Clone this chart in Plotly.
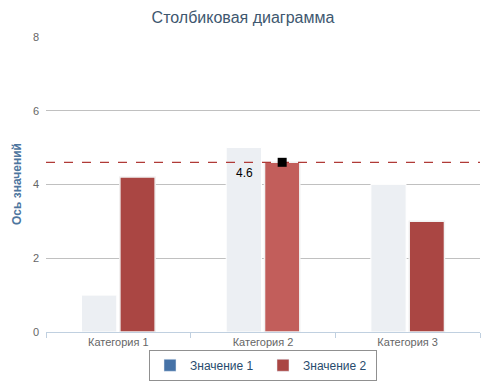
import plotly.graph_objects as go

categories = ["Категория 1", "Категория 2", "Категория 3"]
series1_name = "Значение 1"
series2_name = "Значение 2"
series1_values = [1, 5, 4]
series2_values = [4.2, 4.6, 3.0]
reference_value = 4.6
highlight_index = 1
y_ticks = [0, 2, 4, 6, 8]

BARGAP = 0.47
BARGROUPGAP = 0.08
S1_LEGEND = "#4572A7"
S1_FADED = "#ECEFF3"
S2 = "#AA4643"
S2_HOVER = "#C25E5B"

n = len(categories)
fig = go.Figure()
fig.add_bar(x=categories, y=series1_values, name=series1_name, offsetgroup="1",
            marker=dict(color=S1_FADED, line=dict(color="white", width=1)),
            showlegend=False, hoverinfo="skip")
s2_colors = [S2_HOVER if i == highlight_index else S2 for i in range(n)]
fig.add_bar(x=categories, y=series2_values, name=series2_name, offsetgroup="2",
            marker=dict(color=s2_colors, line=dict(color="#F2F2F2", width=1.5)),
            showlegend=False)
# legend entries
fig.add_bar(x=[categories[0]], y=[None], name=series1_name, offsetgroup="1",
            marker=dict(color=S1_LEGEND))
fig.add_bar(x=[categories[0]], y=[None], name=series2_name, offsetgroup="2",
            marker=dict(color=S2))

# dashed reference line across the plot
fig.add_scatter(x=[-0.5, n - 0.5], y=[reference_value, reference_value], mode="lines",
                line=dict(color="#B03A37", width=1.2, dash="dash"), xaxis="x2",
                showlegend=False, hoverinfo="skip")

# marker on top of highlighted bar (position derived from group layout)
slot = (1 - BARGAP) / 2
mx = highlight_index + slot / 2
fig.add_scatter(x=[mx], y=[series2_values[highlight_index]], mode="markers",
                marker=dict(symbol="square", size=9, color="black"),
                showlegend=False, xaxis="x2")

fig.add_annotation(x=highlight_index, y=reference_value, xref="x2", yref="y",
                   text=f"{reference_value}", showarrow=False, xanchor="right", yanchor="top",
                   xshift=-8, yshift=-2, font=dict(size=12, color="#000000"))

fig.update_layout(
    width=496, height=382,
    margin=dict(l=46, r=16, t=36, b=50, autoexpand=False),
    paper_bgcolor="white", plot_bgcolor="white",
    font=dict(family="Liberation Sans, Arial, sans-serif"),
    title=dict(text="Столбиковая диаграмма", x=243 / 496, xanchor="center", y=1 - 17 / 382,
               yanchor="middle", font=dict(size=16, color="#3E576F")),
    barmode="group", bargap=BARGAP, bargroupgap=BARGROUPGAP,
    legend=dict(orientation="h", x=0.5, xanchor="center", y=-0.06, yanchor="top",
                bordercolor="#909090", borderwidth=1, bgcolor="white",
                entrywidth=68, entrywidthmode="pixels",
                font=dict(size=12, color="#274B6D")),
    showlegend=True,
    xaxis2=dict(overlaying="x", range=[-0.5, n - 0.5], visible=False, fixedrange=True),
    xaxis=dict(type="category", range=[-0.5, n - 0.5], showline=True,
               linecolor="#C0D0E0", linewidth=1,
               ticks="outside", tickson="boundaries", ticklen=5, tickcolor="#C0D0E0",
               showgrid=False, tickfont=dict(size=11, color="#666666"),
               fixedrange=True),
)
fig.update_yaxes(range=[0, max(y_ticks) * 1.003], tickvals=y_ticks, showgrid=True, gridcolor="#C0C0C0",
                 zeroline=False, showline=False, tickfont=dict(size=11, color="#666666"),
                 ticklabelstandoff=6, fixedrange=True,
                 title=dict(text="<b>Ось значений</b>", font=dict(size=12, color="#4D759E"), standoff=8))

fig.write_html("out.html", config={"displayModeBar": False},
               post_script="document.body.style.margin='0';")
